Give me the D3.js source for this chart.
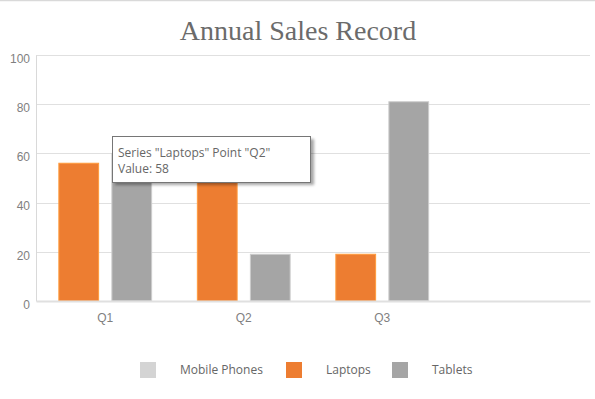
<!DOCTYPE html>
<html>
<head>
<meta charset="utf-8">
<script src="https://cdn.jsdelivr.net/npm/d3@7"></script>
<style>
  body { margin: 0; background: #fff; }
  svg { display: block; font-family: 'Open Sans', sans-serif; }
</style>
</head>
<body>
<div id="chart"></div>
<script>
const categories = ['Q1', 'Q2', 'Q3', ''];
const seriesNames = ['Mobile Phones', 'Laptops', 'Tablets'];
const seriesColors = ['#d4d4d4', '#ed7d31', '#a5a5a5'];
const mobilePhones = [null, null, null];
const laptops = [56, 58, 19];
const tablets = [60, 19, 81];
const yTicks = [0, 20, 40, 60, 80, 100];

const width = 595;
const height = 399;
const margin = { top: 55, right: 5, bottom: 98, left: 36 };

const svg = d3.select('#chart')
  .append('svg')
  .attr('width', width)
  .attr('height', height);

// top border line
svg.append('line')
  .attr('x1', 0).attr('x2', width)
  .attr('y1', 0.5).attr('y2', 0.5)
  .attr('stroke', '#d9d9d9')
  .attr('stroke-width', 1.5);

svg.append('text')
  .attr('x', 298)
  .attr('y', 40)
  .attr('text-anchor', 'middle')
  .attr('font-family', "'Liberation Serif', 'DejaVu Serif', serif")
  .attr('font-size', 28)
  .attr('fill', '#6b6b6b')
  .text('Annual Sales Record');

const x0 = d3.scaleBand()
  .domain(categories.map((c, i) => i))
  .range([margin.left, width - margin.right])
  .paddingInner(0.33)
  .paddingOuter(0.165);

const y = d3.scaleLinear()
  .domain([0, 100])
  .range([height - margin.bottom, margin.top]);

// only series that actually carry values get a slot in the group
const seriesData = [mobilePhones, laptops, tablets];
const shown = seriesNames.filter((s, i) => seriesData[i].some(v => v != null));

const x1 = d3.scaleBand()
  .domain(shown)
  .range([0, x0.bandwidth()])
  .paddingInner(0.25);

// gridlines
svg.append('g')
  .selectAll('line')
  .data(yTicks.filter(d => d > 0))
  .enter()
  .append('line')
  .attr('x1', margin.left)
  .attr('x2', width - margin.right)
  .attr('y1', d => Math.round(y(d)) + 0.5)
  .attr('y2', d => Math.round(y(d)) + 0.5)
  .attr('stroke', '#e0e0e0');

// y axis
const yAxis = svg.append('g')
  .attr('transform', `translate(${margin.left},0)`)
  .call(d3.axisLeft(y).tickValues(yTicks).tickSize(0).tickPadding(6));
yAxis.select('.domain').attr('stroke', '#d9d9d9');
yAxis.selectAll('text')
  .attr('font-size', 12)
  .attr('fill', '#7f7f7f')
  .attr('dy', '0.6em');

// bars
const bars = [];
seriesNames.forEach((name, si) => {
  seriesData[si].forEach((v, ci) => {
    if (v != null) bars.push({ name, color: seriesColors[si], cat: ci, value: v });
  });
});

svg.append('g')
  .selectAll('rect')
  .data(bars)
  .enter()
  .append('rect')
  .attr('x', d => x0(d.cat) + x1(d.name))
  .attr('y', d => y(d.value))
  .attr('width', x1.bandwidth())
  .attr('height', d => y(0) - y(d.value))
  .attr('fill', d => d.color)
  .attr('stroke', d => d3.color(d.color).brighter(0.6))
  .attr('stroke-width', 1);

// x axis
const xAxis = svg.append('g')
  .attr('transform', `translate(0,${y(0)})`)
  .call(d3.axisBottom(x0).tickFormat(i => categories[i]).tickSize(0).tickPadding(12));
xAxis.select('.domain').attr('stroke', '#e0e0e0').attr('stroke-width', 2);
xAxis.selectAll('text')
  .attr('font-size', 12)
  .attr('fill', '#7f7f7f');

// legend
const legendX = [140, 286, 392];
const legend = svg.append('g')
  .selectAll('g')
  .data(seriesNames)
  .enter()
  .append('g')
  .attr('transform', (d, i) => `translate(${legendX[i]},362)`);
legend.append('rect')
  .attr('width', 16)
  .attr('height', 16)
  .attr('fill', (d, i) => seriesColors[i]);
legend.append('text')
  .attr('x', 40)
  .attr('y', 12)
  .attr('font-size', 12)
  .attr('fill', '#666')
  .text(d => d);

// tooltip for Laptops / Q2
const tip = { series: 'Laptops', cat: 1 };
const tipValue = laptops[tip.cat];
const tg = svg.append('g').attr('transform', 'translate(112,136)');
tg.append('rect')
  .attr('x', 3).attr('y', 3)
  .attr('width', 199).attr('height', 46)
  .attr('fill', '#000')
  .attr('opacity', 0.35)
  .style('filter', 'blur(1.5px)');
tg.append('rect')
  .attr('x', 0.5).attr('y', 0.5)
  .attr('width', 198).attr('height', 46)
  .attr('fill', '#fff')
  .attr('stroke', '#767676');
tg.append('text')
  .attr('x', 6).attr('y', 21)
  .attr('font-size', 12)
  .attr('fill', '#666')
  .text(`Series "${tip.series}" Point "${categories[tip.cat]}"`);
tg.append('text')
  .attr('x', 6).attr('y', 37)
  .attr('font-size', 12)
  .attr('fill', '#666')
  .text(`Value: ${tipValue}`);
</script>
</body>
</html>
